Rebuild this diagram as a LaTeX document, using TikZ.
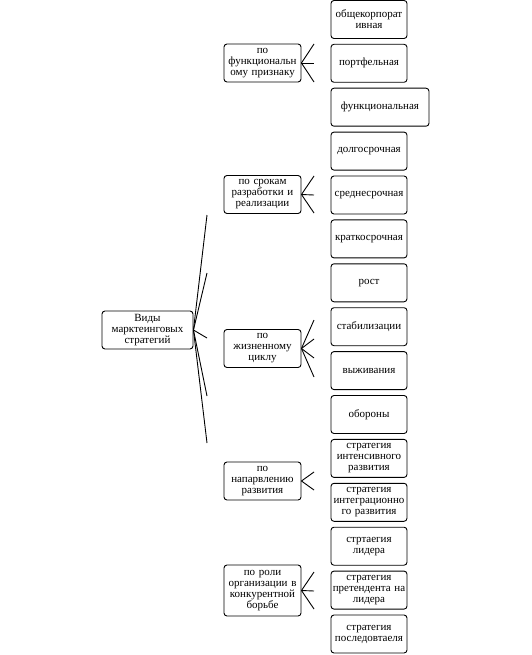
\documentclass[tikz,border=0pt]{standalone}
\usepackage{fontspec}
\setmainfont{Liberation Serif}
\begin{document}
\begin{tikzpicture}[x=1pt,y=-1pt,
  box/.style={draw, rounded corners=3pt, line width=0.9pt, minimum height=38pt,
    align=center, inner sep=0.5pt, font=\fontsize{11}{11}\selectfont},
  lone/.style={box, minimum width=77pt, text width=76pt},
  ltwo/.style={box, minimum width=76pt, text width=75pt},
  fan/.style={line width=0.9pt}]
\useasboundingbox (0,0) rectangle (532,655);
% root
\node[box, minimum width=91pt, text width=88pt] (root) at (147.5,330) {Виды\\марктеинговых\\стратегий};
% level 1
\node[lone] (a) at (262.5,63) {по\\функциональн\\ому признаку};
\node[lone] (b) at (262.5,194.5) {по срокам\\разработки и\\реализации};
\node[lone] (c) at (262.5,348.5) {по\\жизненному\\циклу};
\node[lone] (d) at (262.5,481) {по\\напарвлению\\развития};
\node[lone, minimum height=51pt] (e) at (262.5,590.5) {по роли\\организации в\\конкурентной\\борьбе};
% level 2
\node[ltwo] (a1) at (369,19.5) {общекорпорат\\ивная};
\node[ltwo] (a2) at (369,63.3) {портфельная};
\node[box, minimum width=98pt, text width=96pt] (a3) at (380,107.2) {функциональная};
\node[ltwo] (b1) at (369,151.1) {долгосрочная};
\node[ltwo] (b2) at (369,195) {среднесрочная};
\node[ltwo] (b3) at (369,238.9) {краткосрочная};
\node[ltwo] (c1) at (369,282.8) {рост};
\node[ltwo] (c2) at (369,326.7) {стабилизации};
\node[ltwo] (c3) at (369,370.6) {выживания};
\node[ltwo] (c4) at (369,414.5) {обороны};
\node[ltwo] (d1) at (369,458.4) {стратегия\\интенсивного\\развития};
\node[ltwo] (d2) at (369,502.3) {стратегия\\интеграционно\\го развития};
\node[ltwo] (e1) at (369,546.2) {стртаегия\\лидера};
\node[ltwo] (e2) at (369,590.1) {стратегия\\претендента на\\лидера};
\node[ltwo] (e3) at (369,634) {стратегия\\последовтаеля};
% fan end points
\coordinate (r1) at (207,215);
\coordinate (r2) at (207,273);
\coordinate (r3) at (207,338);
\coordinate (r4) at (207,396);
\coordinate (r5) at (207,443);
\foreach \p in {r1,r2,r3,r4,r5} \draw[fan] (root.east) -- (\p);
\coordinate (pa1) at (314,44); \coordinate (pa2) at (314,63); \coordinate (pa3) at (314,82);
\foreach \p in {pa1,pa2,pa3} \draw[fan] (a.east) -- (\p);
\coordinate (pb1) at (314,176); \coordinate (pb2) at (314,195); \coordinate (pb3) at (314,213);
\foreach \p in {pb1,pb2,pb3} \draw[fan] (b.east) -- (\p);
\coordinate (pc1) at (314,320); \coordinate (pc2) at (314,339); \coordinate (pc3) at (314,358); \coordinate (pc4) at (314,377);
\foreach \p in {pc1,pc2,pc3,pc4} \draw[fan] (c.east) -- (\p);
\coordinate (pd1) at (314,472); \coordinate (pd2) at (314,490);
\foreach \p in {pd1,pd2} \draw[fan] (d.east) -- (\p);
\coordinate (pe1) at (314,572); \coordinate (pe2) at (314,591); \coordinate (pe3) at (314,609);
\foreach \p in {pe1,pe2,pe3} \draw[fan] (e.east) -- (\p);
\end{tikzpicture}
\end{document}
